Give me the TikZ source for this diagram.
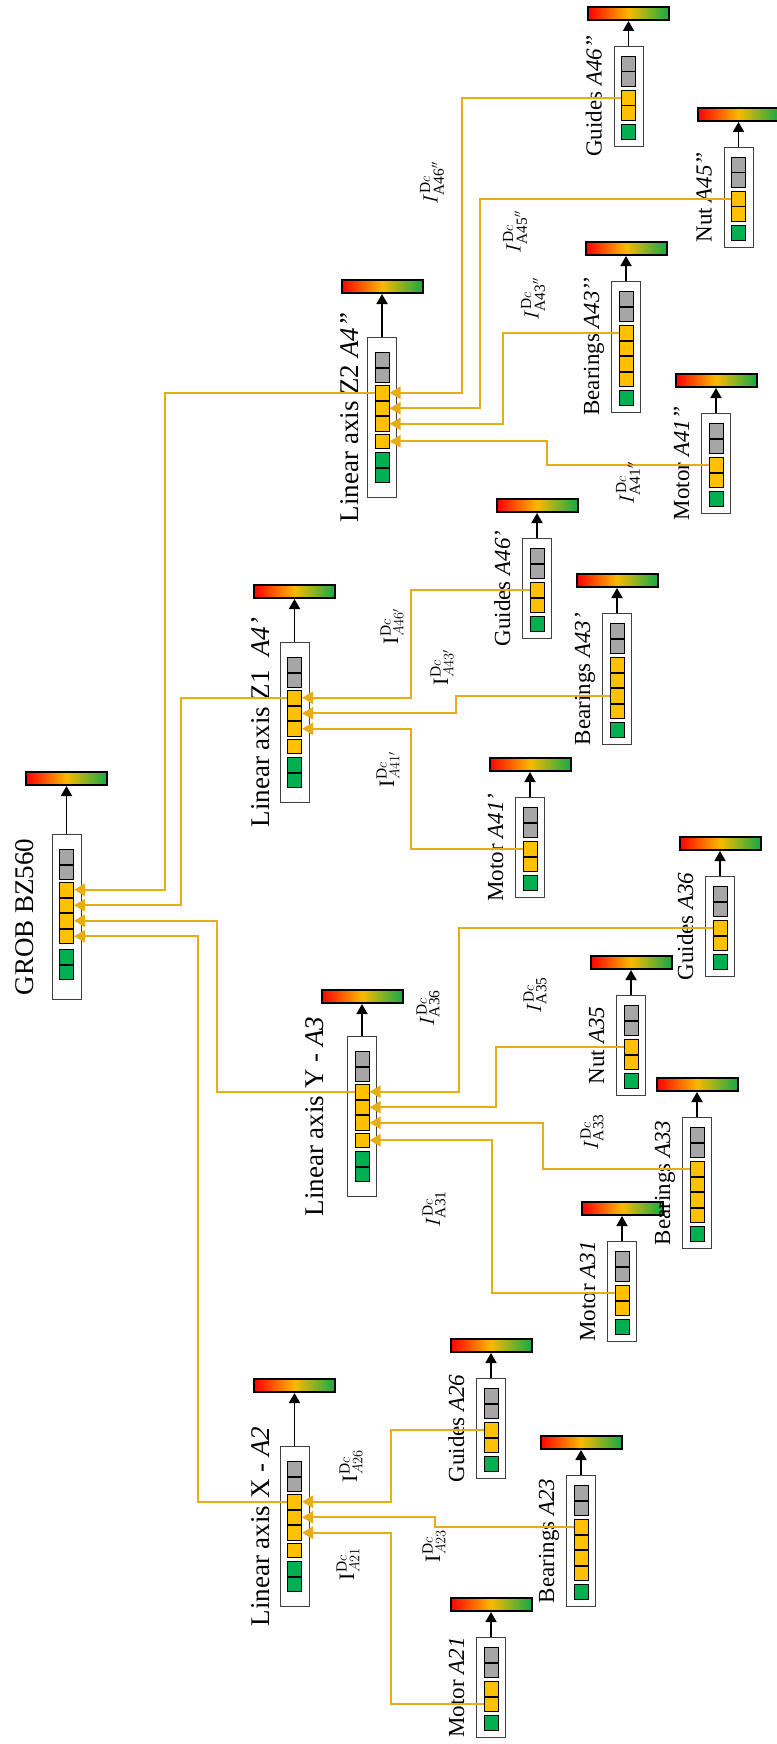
\documentclass[tikz,border=0pt]{standalone}
\usepackage{fontspec}
\setmainfont{Liberation Serif}
\usetikzlibrary{arrows.meta}

\definecolor{cellgray}{RGB}{166,166,166}
\definecolor{cellorange}{RGB}{255,192,0}
\definecolor{cellgreen}{RGB}{0,176,80}
\definecolor{linkgold}{RGB}{232,172,20}
\definecolor{barred}{RGB}{255,0,0}
\definecolor{baryellow}{RGB}{250,185,0}
\definecolor{bargreen}{RGB}{20,170,70}

\tikzset{
  unitbox/.style={draw=black!75, line width=1pt, fill=white, minimum width=29pt, inner sep=0pt},
  cell/.style={draw=black, line width=0.9pt, minimum width=14.1pt, minimum height=14.6pt, inner sep=0pt},
  ratebar/.style={draw=black, line width=2pt, minimum width=81pt, minimum height=13pt, inner sep=0pt,
    left color=barred, right color=bargreen, middle color=baryellow},
  link/.style={draw=linkgold, line width=2.4pt, -{Triangle[length=11pt,width=12pt]}},
  up/.style={draw=black, line width=1.8pt, -{Triangle[length=10pt,width=11pt]}},
  bigname/.style={rotate=90, anchor=base, font=\fontsize{27}{27}\selectfont},
  partname/.style={rotate=90, anchor=base, font=\fontsize{23}{23}\selectfont},
  ilabel/.style={rotate=90, font=\fontsize{22}{22}\selectfont},
}

% cell layouts: name/offset from box top/colour
\def\rootcells{g1/15/cellgray, g2/30.5/cellgray, o1/48/cellorange, o2/63.5/cellorange, o3/79/cellorange, o4/94.5/cellorange, n1/115/cellgreen, n2/130.5/cellgreen}
\def\axiscells{g1/15/cellgray, g2/30.5/cellgray, o1/48/cellorange, o2/63.5/cellorange, o3/79/cellorange, o4/96.5/cellorange, n1/115/cellgreen, n2/130.5/cellgreen}
\def\smallcells{g1/10/cellgray, g2/25.5/cellgray, o1/44/cellorange, o2/59.5/cellorange, n1/78/cellgreen}
\def\bearcells{g1/10/cellgray, g2/25.5/cellgray, o1/44/cellorange, o2/59.5/cellorange, o3/75/cellorange, o4/90.5/cellorange, n1/109/cellgreen}

% #1 name, #2 x, #3 box top, #4 box height, #5 gap to bar, #6 cells
\newcommand{\unitblock}[6]{%
  \node[unitbox, minimum height=#4pt, anchor=north] (#1) at (#2,#3) {};
  \foreach \id/\off/\col in #6
    \node[cell, fill=\col, anchor=north] (#1\id) at (#2,{#3+\off}) {};
  \node[ratebar, anchor=south] (#1bar) at (#2,{#3-#5}) {};
  \draw[up] (#1.north) -- (#1bar.south);
}

\begin{document}
\begin{tikzpicture}[x=1pt, y=-1pt]
    \useasboundingbox (0,0) rectangle (776,1744);

    % Machine
    \unitblock{grob}{66.5}{834}{165}{48}{\rootcells}
    \node[bigname] (grobL) at ([xshift=-18pt]grob.west) {GROB BZ560};

    % Axes
    \unitblock{axX}{294.5}{1446}{160}{53}{\axiscells}
    \unitblock{axY}{362}{1036}{160}{32}{\axiscells}
    \unitblock{axZa}{294.5}{642}{160}{43}{\axiscells}
    \unitblock{axZb}{382}{337}{160}{43}{\axiscells}
    \node[bigname] (axXL) at ([xshift=-10pt]axX.west) {Linear axis X - \textit{A2}};
    \node[bigname] (axYL) at ([xshift=-24pt]axY.west) {Linear axis Y - \textit{A3}};
    \node[bigname] (axZaL) at ([xshift=-10pt]axZa.west) {Linear axis Z1 \ \textit{A4’}};
    \node[bigname] (axZbL) at ([xshift=-9pt]axZb.west) {Linear axis Z2 \textit{A4”}};

    % Components
    \unitblock{M21}{491}{1637}{100}{25}{\smallcells}
    \unitblock{B23}{581}{1475}{131}{25}{\bearcells}
    \unitblock{G26}{491}{1378}{100}{25}{\smallcells}
    \unitblock{M31}{622}{1241}{100}{25}{\smallcells}
    \unitblock{B33}{697}{1117}{131}{25}{\bearcells}
    \unitblock{N35}{631}{995}{100}{25}{\smallcells}
    \unitblock{G36}{720}{876}{100}{25}{\smallcells}
    \unitblock{M41a}{530}{797}{100}{25}{\smallcells}
    \unitblock{B43a}{617}{613}{131}{25}{\bearcells}
    \unitblock{G46a}{537}{538}{100}{25}{\smallcells}
    \unitblock{M41b}{716}{413}{100}{25}{\smallcells}
    \unitblock{B43b}{626}{281}{131}{25}{\bearcells}
    \unitblock{N45b}{738.5}{147}{100}{25}{\smallcells}
    \unitblock{G46b}{628.5}{46}{100}{25}{\smallcells}

    \node[partname] (M21L) at ([xshift=-12pt]M21.west) {Motor \textit{A21}};
    \node[partname] (B23L) at ([xshift=-12pt]B23.west) {Bearings \textit{A23}};
    \node[partname] (G26L) at ([xshift=-12pt]G26.west) {Guides \textit{A26}};
    \node[partname] (M31L) at ([xshift=-12pt]M31.west) {Motor \textit{A31}};
    \node[partname] (B33L) at ([xshift=-12pt]B33.west) {Bearings \textit{A33}};
    \node[partname] (N35L) at ([xshift=-12pt]N35.west) {Nut \textit{A35}};
    \node[partname] (G36L) at ([xshift=-12pt]G36.west) {Guides \textit{A36}};
    \node[partname] (M41aL) at ([xshift=-12pt]M41a.west) {Motor \textit{A41’}};
    \node[partname] (B43aL) at ([xshift=-12pt]B43a.west) {Bearings \textit{A43’}};
    \node[partname] (G46aL) at ([xshift=-12pt]G46a.west) {Guides \textit{A46’}};
    \node[partname] (M41bL) at ([xshift=-12pt]M41b.west) {Motor \textit{A41’’}};
    \node[partname] (B43bL) at ([xshift=-12pt]B43b.west) {Bearings \textit{A43’’}};
    \node[partname] (N45bL) at ([xshift=-12pt]N45b.west) {Nut \textit{A45’’}};
    \node[partname] (G46bL) at ([xshift=-12pt]G46b.west) {Guides \textit{A46’’}};

    % Links to the machine
    \draw[link] (axZbo1.west) -| (165,0 |- grobo1.east) -- (grobo1.east);
    \draw[link] (axZao1.west) -| (181,0 |- grobo2.east) -- (grobo2.east);
    \draw[link] (axYo1.west) -| (217,0 |- grobo3.east) -- (grobo3.east);
    \draw[link] (axXo1.west) -| (198,0 |- grobo4.east) -- (grobo4.east);

    % Links to the axes
    \draw[link] (G26o1.west) -| (391,0 |- axXo1.east) -- (axXo1.east);
    \draw[link] (B23o1.west) -| (435,0 |- axXo2.east) -- (axXo2.east);
    \draw[link] (M21o2.west) -| (391,0 |- axXo3.east) -- (axXo3.east);
    \draw[link] (G36o1.west) -| (459,0 |- axYo1.east) -- (axYo1.east);
    \draw[link] (N35o1.west) -| (496,0 |- axYo2.east) -- (axYo2.east);
    \draw[link] (B33o1.west) -| (543,0 |- axYo3.east) -- (axYo3.east);
    \draw[link] (M31o1.west) -| (492,0 |- axYo4.east) -- (axYo4.east);
    \draw[link] (G46ao1.west) -| (411,0 |- axZao1.east) -- (axZao1.east);
    \draw[link] (B43ao3.west) -| (456,0 |- axZao2.east) -- (axZao2.east);
    \draw[link] (M41ao1.west) -| (411,0 |- axZao3.east) -- (axZao3.east);
    \draw[link] (G46bo1.west) -| (462,0 |- axZbo1.east) -- (axZbo1.east);
    \draw[link] (N45bo1.west) -| (480,0 |- axZbo2.east) -- (axZbo2.east);
    \draw[link] (B43bo1.west) -| (503,0 |- axZbo3.east) -- (axZbo3.east);
    \draw[link] (M41bo1.west) -| (547,0 |- axZbo4.east) -- (axZbo4.east);

    % Labels
    \node[ilabel] (IA21) at (348,1564) {$\mathrm{I}^{\mathrm{D}c}_{A21}$};
    \node[ilabel] (IA26) at (351,1466) {$\mathrm{I}^{\mathrm{D}c}_{A26}$};
    \node[ilabel] (IA23) at (434,1546) {$\mathrm{I}^{\mathrm{D}c}_{A23}$};
    \node[ilabel] (IA36) at (428,1008) {$I^{\mathrm{D}c}_{\mathrm{A36}}$};
    \node[ilabel] (IA31) at (434,1209) {$I^{\mathrm{D}c}_{\mathrm{A31}}$};
    \node[ilabel] (IA35) at (535,995) {$I^{\mathrm{D}c}_{\mathrm{A35}}$};
    \node[ilabel] (IA33) at (592,1132) {$I^{\mathrm{D}c}_{\mathrm{A33}}$};
    \node[ilabel] (IA41a) at (388,769) {$\mathrm{I}^{\mathrm{D}c}_{A41'}$};
    \node[ilabel] (IA46a) at (392,626) {$\mathrm{I}^{\mathrm{D}c}_{A46'}$};
    \node[ilabel] (IA43a) at (442,667) {$\mathrm{I}^{\mathrm{D}c}_{A43'}$};
    \node[ilabel] (IA46b) at (432,183) {$I^{\mathrm{D}c}_{\mathrm{A46}''}$};
    \node[ilabel] (IA45b) at (515,232) {$I^{\mathrm{D}c}_{\mathrm{A45}''}$};
    \node[ilabel] (IA43b) at (533,299) {$I^{\mathrm{D}c}_{\mathrm{A43}''}$};
    \node[ilabel] (IA41b) at (628,483) {$I^{\mathrm{D}c}_{\mathrm{A41}''}$};
\end{tikzpicture}
\end{document}
